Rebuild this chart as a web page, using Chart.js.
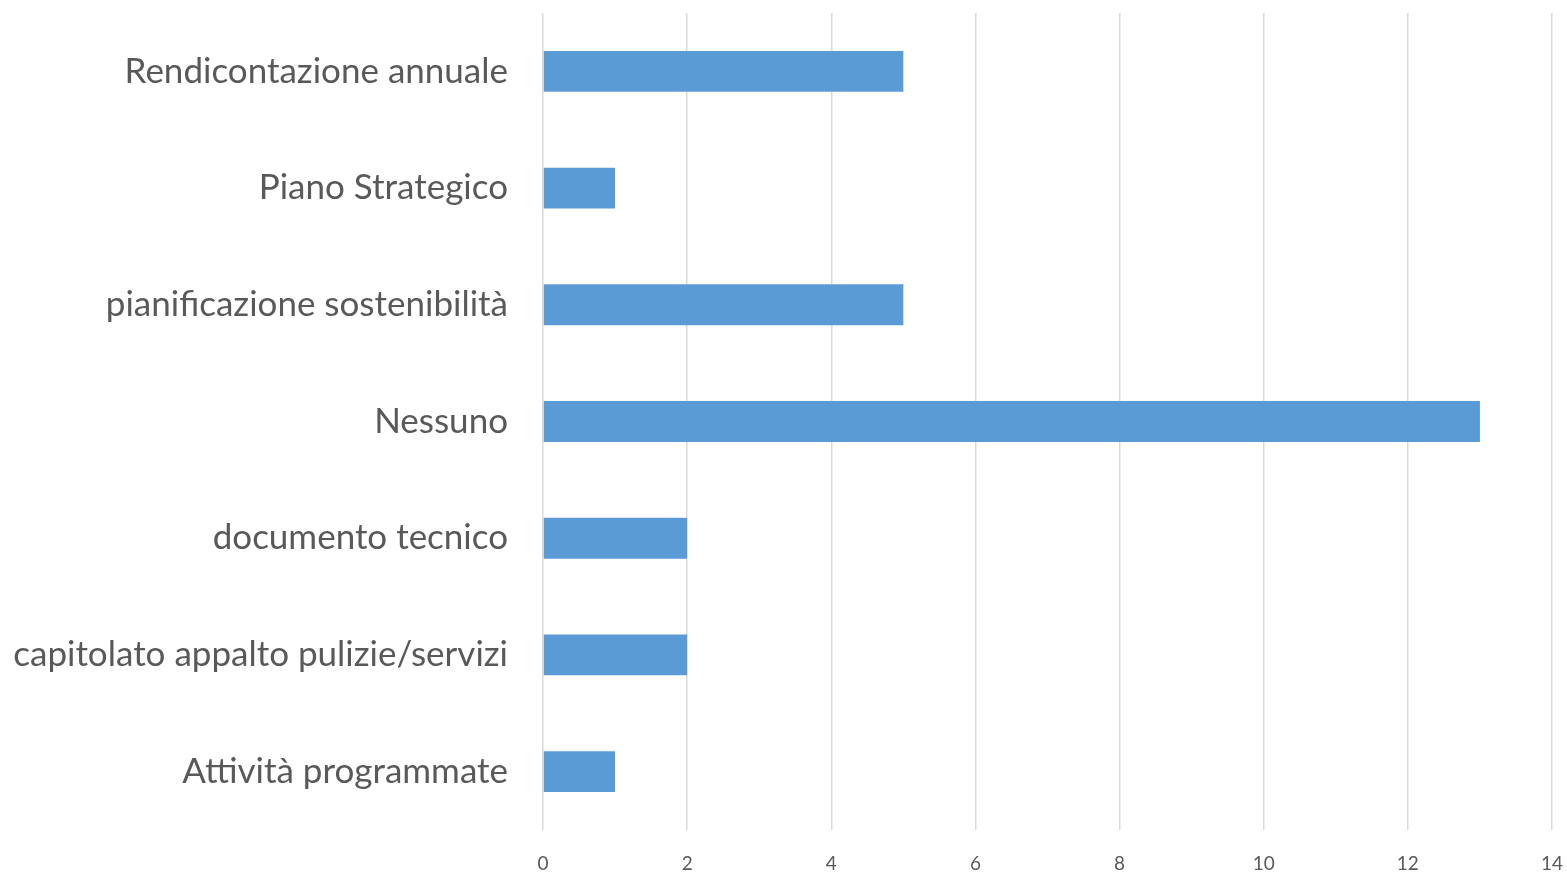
<!DOCTYPE html>
<html>
<head>
<meta charset="utf-8">
<script src="https://cdn.jsdelivr.net/npm/chart.js@4"></script>
<style>
  html, body { margin: 0; padding: 0; background: #fff; }
  #wrap { width: 1567px; height: 874px; }
</style>
</head>
<body>
<div id="wrap"><canvas id="barChart"></canvas></div>
<script>
// Data
const categories = [
    'Rendicontazione annuale',
    'Piano Strategico',
    'pianificazione sostenibilità',
    'Nessuno',
    'documento tecnico',
    'capitolato appalto pulizie/servizi',
    'Attività programmate'
];
const counts = [5, 1, 5, 13, 2, 2, 1];
const xTicks = [0, 2, 4, 6, 8, 10, 12, 14];

const ctx = document.getElementById('barChart').getContext('2d');

new Chart(ctx, {
    type: 'bar',
    data: {
        labels: categories,
        datasets: [{
            data: counts,
            backgroundColor: '#5b9bd5',
            borderWidth: 0,
            categoryPercentage: 1,
            barPercentage: 0.35
        }]
    },
    options: {
        indexAxis: 'y',
        responsive: true,
        maintainAspectRatio: false,
        animation: false,
        layout: { padding: { top: 13, right: 15, left: 0, bottom: 0 } },
        plugins: {
            legend: { display: false },
            tooltip: { enabled: false }
        },
        scales: {
            x: {
                min: xTicks[0],
                max: xTicks[xTicks.length - 1],
                afterBuildTicks: function(scale) {
                    scale.ticks = xTicks.map(v => ({ value: v }));
                },
                afterFit: function(scale) {
                    scale.height = 44;
                    scale.paddingLeft = 0;
                    scale.paddingRight = 0;
                },
                grid: { color: '#d9d9d9', lineWidth: 1.5, drawTicks: false },
                border: { display: false },
                ticks: {
                    color: '#595959',
                    padding: 22,
                    font: { family: 'Lato', size: 19 }
                }
            },
            y: {
                afterFit: function(scale) {
                    scale.width = 543;
                    scale.paddingTop = 0;
                    scale.paddingBottom = 0;
                },
                grid: { display: false, drawTicks: false },
                border: { display: false },
                ticks: {
                    color: '#595959',
                    padding: 35,
                    font: { family: 'Lato', size: 35 }
                }
            }
        }
    }
});
</script>
</body>
</html>
